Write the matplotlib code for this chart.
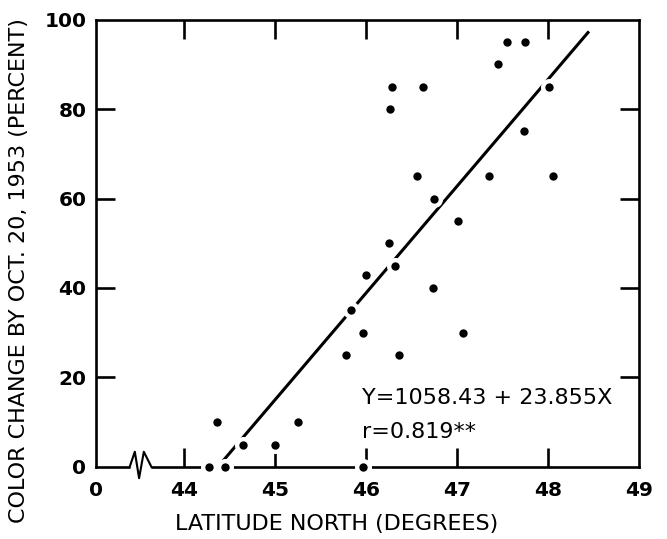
"""Color change vs latitude scatter with fitted regression line."""

import matplotlib
matplotlib.use("Agg")
import matplotlib.pyplot as plt
import numpy as np

# ---------------------------------------------------------------------------
# Data
# ---------------------------------------------------------------------------
latitude = [
    44.27, 44.36, 44.45, 44.65, 45.00, 45.25,
    45.97, 45.78, 45.83, 45.97, 46.00, 46.26, 46.29, 46.25, 46.32,
    46.36, 46.56, 46.62, 46.74, 46.75, 47.01, 47.06, 47.35, 47.45,
    47.55, 47.75, 47.74, 48.01, 48.05,
]
color_change = [
    0, 10, 0, 5, 5, 10,
    0, 25, 35, 30, 43, 80, 85, 50, 45,
    25, 65, 85, 40, 60, 55, 30, 65, 90,
    95, 95, 75, 85, 65,
]

# regression Y = -1058.43 + 23.855 X, drawn over the fitted range
REG_INTERCEPT = -1058.43
REG_SLOPE = 23.855
REG_X_RANGE = [44.42, 48.45]

X_ORIGIN = 43.03  # left edge of the broken axis, labelled "0"
x_ticks = [X_ORIGIN, 44, 45, 46, 47, 48, 49]
x_tick_labels = ["0", "44", "45", "46", "47", "48", "49"]
y_ticks = [0, 20, 40, 60, 80, 100]
y_tick_labels = ["0", "20", "40", "60", "80", "100"]

LW = 1.9
FONT = "DejaVu Sans"

fig = plt.figure(figsize=(6.67, 5.39), dpi=100)
ax = fig.add_axes([0.1439, 0.1336, 0.8141, 0.8302])

ax.set_xlim(X_ORIGIN, 49)
ax.set_ylim(0, 100)

for sp in ax.spines.values():
    sp.set_linewidth(LW)

# regression line
xr = np.array(REG_X_RANGE)
ax.plot(xr, REG_INTERCEPT + REG_SLOPE * xr, color="black", lw=2.2,
        solid_capstyle="butt", zorder=2)

# points: white halo first (breaks the lines around each dot), then dot
ax.scatter(latitude, color_change, s=150, c="white", linewidths=0,
           zorder=4, clip_on=False)
ax.scatter(latitude, color_change, s=36, c="black", linewidths=0,
           zorder=5, clip_on=False)

# axis break symbol on the bottom spine
tr = ax.get_xaxis_transform()
ax.plot([43.40, 43.64], [0, 0], color="white", lw=LW + 2, transform=tr,
        clip_on=False, zorder=3, solid_capstyle="butt")
ax.plot([43.40, 43.457, 43.504, 43.556, 43.64],
        [0, 0.034, -0.025, 0.034, 0],
        color="black", lw=LW * 0.8, transform=tr, clip_on=False, zorder=3)

# ticks
ax.set_xticks(x_ticks)
ax.set_xticklabels(x_tick_labels)
ax.set_yticks(y_ticks)
ax.set_yticklabels(y_tick_labels)
ax.tick_params(axis="both", direction="in", length=14, width=LW,
               labelsize=14.5, pad=7)
ax.tick_params(axis="x", top=True, bottom=True, pad=10)
ax.tick_params(axis="y", left=True, right=True)
for lab in ax.get_xticklabels() + ax.get_yticklabels():
    lab.set_fontweight("bold")
    lab.set_family(FONT)

# hide the ticks that the original does not draw (0 and 100 on y, "0" and 49 on x)
for t in ax.yaxis.get_major_ticks():
    if t.get_loc() in (0, 100):
        t.tick1line.set_visible(False)
        t.tick2line.set_visible(False)
for t in ax.xaxis.get_major_ticks():
    if t.get_loc() in (X_ORIGIN, 49):
        t.tick1line.set_visible(False)
        t.tick2line.set_visible(False)

ax.set_xlabel("LATITUDE NORTH (DEGREES)", fontsize=16, family=FONT)
ax.set_ylabel("COLOR CHANGE BY OCT. 20, 1953 (PERCENT)", fontsize=16, family=FONT)
ax.xaxis.label.set_va("center")
ax.yaxis.label.set_va("center")
ax.xaxis.set_label_coords(0.444, -0.127)
ax.yaxis.set_label_coords(-0.142, 0.44)

ax.text(45.96, 15.4, "Y=1058.43 + 23.855X", fontsize=16, family=FONT,
        ha="left", va="center")
ax.text(45.96, 7.9, "r=0.819**", fontsize=16, family=FONT,
        ha="left", va="center")

fig.savefig("out.png", dpi=100)
plt.close(fig)
